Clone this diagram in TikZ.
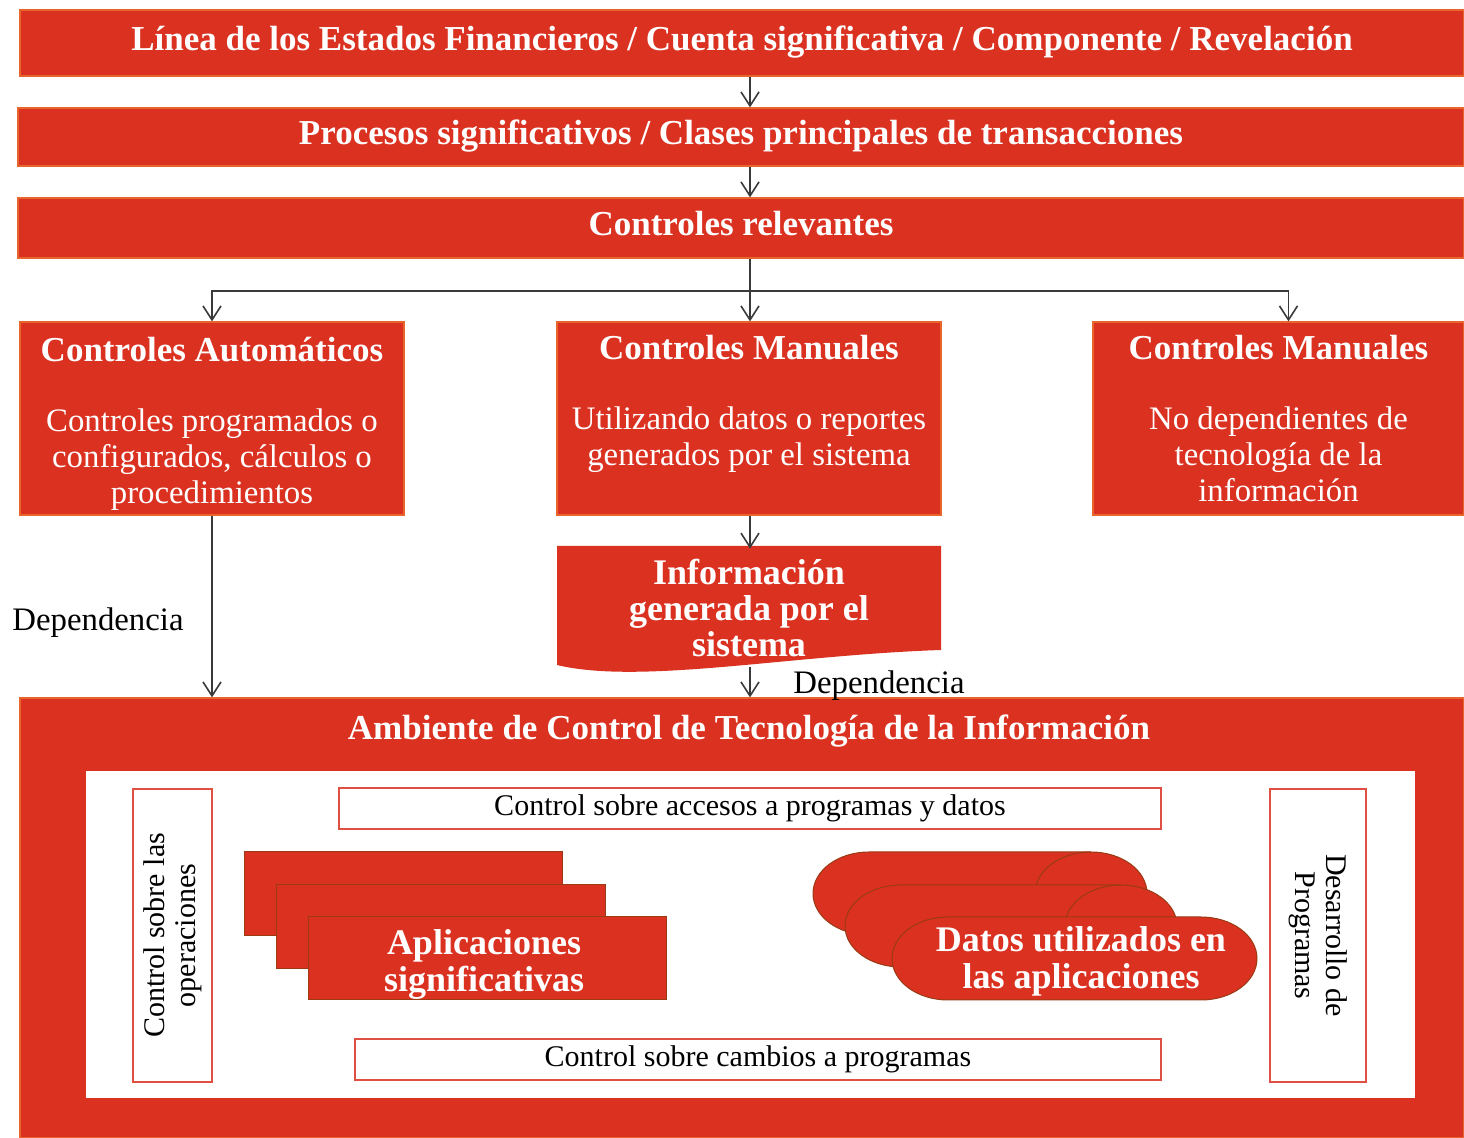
\documentclass[tikz,border=0pt]{standalone}
\usepackage{fontspec}
\setmainfont{Liberation Serif}
\usepackage{xcolor}
\usepackage{tikz}
\usetikzlibrary{arrows.meta,calc,positioning}
\definecolor{itred}{HTML}{DB3121}
\definecolor{bandedge}{HTML}{E8662C}
\definecolor{stackedge}{HTML}{9A3A14}
\definecolor{flowgrey}{HTML}{3A3A3A}
\newcommand{\headfont}{\fontsize{17.5}{20}\selectfont\bfseries}
\newcommand{\bodyfont}{\fontsize{16.4}{18}\selectfont}
\newcommand{\labelfont}{\fontsize{15}{15.5}\selectfont}
\tikzset{
  band/.style={fill=itred, draw=bandedge, line width=0.6pt, text=white, font=\headfont, inner sep=0pt, text height=12pt, text depth=4pt},
  ctlbox/.style={fill=itred, draw=bandedge, line width=0.6pt, text=white, align=center, font=\bodyfont, inner sep=0pt},
  envbox/.style={fill=itred, draw=bandedge, line width=0.6pt, inner sep=0pt},
  sidebox/.style={fill=white, draw=itred!85, line width=1pt, align=center, font=\labelfont, inner sep=0pt},
  barbox/.style={fill=white, draw=itred!85, line width=1pt, font=\labelfont, inner sep=0pt},
  appbox/.style={fill=itred, draw=stackedge, line width=0.5pt, inner sep=0pt},
  disk/.style={fill=itred, draw=stackedge, line width=0.5pt},
  whitetext/.style={text=white, align=center, font=\fontsize{18}{18.5}\selectfont\bfseries},
  flow/.style={draw=flowgrey, line width=0.8pt, -{Straight Barb[length=7pt,width=9pt]}},
  deplabel/.style={font=\bodyfont, text=black}
}
% horizontal storage drum: left, top, right, bottom
\newcommand{\datadisk}[4]{%
  \path[disk] (#1+56,#2) -- (#3-56,#2)
    arc[start angle=270, end angle=450, x radius=56, y radius=(#4-#2)/2]
    -- (#1+56,#4)
    arc[start angle=90, end angle=270, x radius=56, y radius=(#4-#2)/2] -- cycle;
}
\newcommand{\disklid}[3]{%
  \draw[stackedge, line width=0.5pt] (#2-56,#1)
    arc[start angle=270, end angle=90, x radius=56, y radius=(#3-#1)/2];
}

\begin{document}
\begin{tikzpicture}[x=0.5pt,y=-0.5pt]
\useasboundingbox (0,0) rectangle (1464,1138);
\fill[white] (0,0) rectangle (1464,1138);

\node[band, minimum width=722pt, minimum height=33pt] (fin) at (742,43)
  {Línea de los Estados Financieros / Cuenta significativa / Componente / Revelación};
\node[band, minimum width=723pt, minimum height=29pt] (proc) at (741,137)
  {Procesos significativos / Clases principales de transacciones};
\node[band, minimum width=723pt, minimum height=30pt] (rel) at (741,228)
  {Controles relevantes};

\node[ctlbox, minimum width=192pt, minimum height=96.5pt] (ctlaut) at (212,418.5)
  {{\headfont\rule{0pt}{17.5pt}Controles Automáticos}\\[17pt]Controles programados o\\configurados, cálculos o\\procedimientos};
\node[ctlbox, minimum width=192pt, minimum height=96.5pt] (ctlman) at (749,418.5)
  {{\headfont Controles Manuales}\\[17pt]Utilizando datos o reportes\\generados por el sistema\\\mbox{}};
\node[ctlbox, minimum width=185.5pt, minimum height=96.5pt] (ctlno) at (1278.5,418.5)
  {{\headfont Controles Manuales}\\[17pt]No dependientes de\\tecnología de la\\información};

% document shape
\fill[itred] (557,546) -- (941,546) -- (941,650)
  .. controls (790,655) and (640,685) .. (557,665) -- cycle;
\node[whitetext, font=\fontsize{18}{18}\selectfont\bfseries, minimum width=192pt, minimum height=59pt, inner sep=0pt] (info) at (749,608)
  {Información\\generada por el\\sistema};

\node[envbox, minimum width=722pt, minimum height=220pt] (env) at (742,918) {};
\node[text=white, font=\headfont] (envtitle) at (749,731)
  {Ambiente de Control de Tecnología de la Información};
\node[fill=white, minimum width=664.5pt, minimum height=163.5pt, inner sep=0pt] (inner) at (750.5,934.5) {};

\node[sidebox, rotate=90, minimum width=146.5pt, minimum height=39.5pt] (ops) at (172.5,935.5)
  {Control sobre las\\operaciones};
\node[sidebox, rotate=-90, minimum width=146.5pt, minimum height=48pt] (dev) at (1318,935.5)
  {Desarrollo de\\Programas};
\node[barbox, minimum width=411pt, minimum height=20.5pt] (access) at (750,808.5)
  {Control sobre accesos a programas y datos};
\node[barbox, minimum width=403pt, minimum height=20.5pt] (changes) at (758,1059.5)
  {Control sobre cambios a programas};

% application stack
\node[appbox, minimum width=159pt, minimum height=42pt] (app1) at (403,894) {};
\node[appbox, minimum width=164.5pt, minimum height=42pt] (app2) at (440.5,927) {};
\node[appbox, minimum width=179pt, minimum height=41.5pt] (apps) at (487,958.5) {};
\node[whitetext] (appslabel) at (484,964) {Aplicaciones\\significativas};

% data stack
\datadisk{813}{852}{1147}{935}
\disklid{852}{1147}{935}
\datadisk{845}{885}{1177}{967}
\disklid{885}{1177}{967}
\datadisk{892}{917}{1257}{1000}
\node[whitetext] (data) at (1081,961) {Datos utilizados en\\las aplicaciones};

\coordinate (axis) at (750,0);
\coordinate (split) at (750,291);
\draw[flow] (fin.south -| axis) -- (proc.north -| axis);
\draw[flow] (proc.south -| axis) -- (rel.north -| axis);
\draw[flow] (rel.south -| axis) -- (ctlman.north -| axis);
\draw[flow] (split) -| (ctlaut.north);
\draw[flow] (split) -| ([xshift=5pt]ctlno.north);
\draw[flow] (ctlaut.south) -- (ctlaut.south |- env.north);
\draw[flow] (ctlman.south -| axis) -- (info.north -| axis);
\draw[flow] (info.south -| axis) -- (env.north -| axis);

\node[deplabel] (dep1) at (98,623) {Dependencia};
\node[deplabel] (dep2) at (879,686) {Dependencia};
\end{tikzpicture}
\end{document}
